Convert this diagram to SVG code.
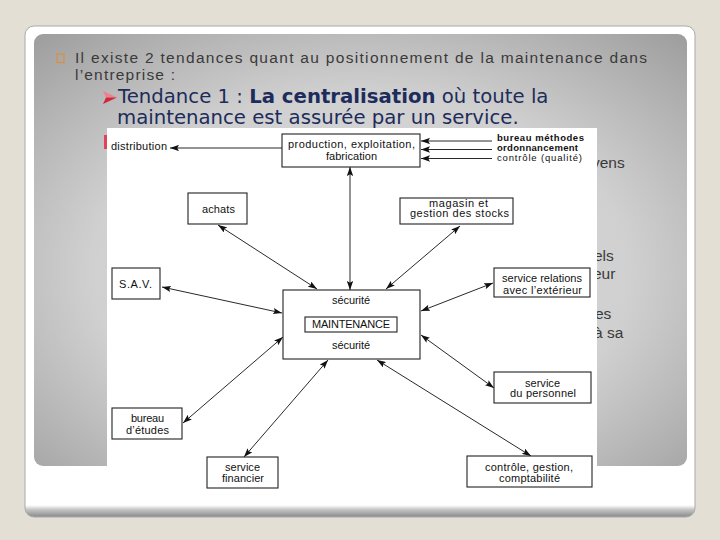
<svg xmlns="http://www.w3.org/2000/svg" width="720" height="540" viewBox="0 0 720 540">
<defs>
<linearGradient id="frameGrad" x1="0" y1="0" x2="0" y2="1">
<stop offset="0" stop-color="#ffffff"/>
<stop offset="0.976" stop-color="#ffffff"/>
<stop offset="0.985" stop-color="#c4c4c4"/>
<stop offset="1" stop-color="#8a8a8a"/>
</linearGradient>
<radialGradient id="panelGrad" cx="0.5" cy="0.55" r="0.75">
<stop offset="0" stop-color="#dedede"/>
<stop offset="0.55" stop-color="#d0d0d0"/>
<stop offset="1" stop-color="#9c9c9c"/>
</radialGradient>
<marker id="ah" viewBox="0 0 10 7" refX="10" refY="3.5" markerUnits="userSpaceOnUse" markerWidth="9" markerHeight="6.3" orient="auto-start-reverse">
<path d="M0,0 L10,3.5 L0,7 L2,3.5 z" fill="#111"/>
</marker>
<style>
.slide{font-family:"Liberation Sans",Arial,sans-serif;font-size:15.5px;fill:#3a3a3a}
.tend{font-family:"DejaVu Sans",Verdana,sans-serif;font-size:19.7px;fill:#1d2c5a}
.lbl{font-family:"Liberation Sans",Arial,sans-serif;font-size:11px;fill:#111}
.sm{font-size:9.5px}
.b{font-weight:bold}
.box{fill:#fff;stroke:#222;stroke-width:1.1}
.con{stroke:#111;stroke-width:0.9;fill:none}
.dbl{marker-start:url(#ah);marker-end:url(#ah)}
.one{marker-end:url(#ah)}
</style>
</defs>
<rect x="0" y="0" width="720" height="540" fill="#e4dfd5"/>
<rect x="25" y="26" width="670" height="491" rx="9" fill="url(#frameGrad)" stroke="#a9a9a9" stroke-width="1"/>
<rect x="34" y="34" width="653" height="432" rx="9" fill="url(#panelGrad)"/>

<rect x="57" y="54" width="7" height="8.5" fill="none" stroke="#d9903f" stroke-width="1.2"/>
<text class="slide" x="75" y="63" textLength="572">Il existe 2 tendances quant au positionnement de la maintenance dans</text>
<text class="slide" x="75" y="80" textLength="100">l’entreprise :</text>
<polygon points="103,91 117,97.5 106,97.5" fill="#f08090"/>
<polygon points="103,104 117,97.5 106,97.5" fill="#d02838"/>
<text class="tend" x="118" y="103">Tendance 1 : <tspan class="b">La centralisation</tspan> où toute la</text>
<text class="tend" x="117" y="124">maintenance est assurée par un service.</text>
<rect x="104" y="135" width="5" height="14" fill="#e04458"/>
<text class="slide" x="592" y="168">yens</text>
<text class="slide" x="594" y="261">els</text>
<text class="slide" x="593" y="279">eur</text>
<text class="slide" x="595" y="319">es</text>
<text class="slide" x="594" y="338">à sa</text>

<rect x="107" y="128" width="490" height="364" fill="#ffffff"/>

<g id="connectors">
<line class="con one" x1="282" y1="148" x2="170" y2="148"/>
<line class="con one" x1="492" y1="141" x2="421" y2="141" stroke-width="1.6"/>
<line class="con one" x1="492" y1="149.5" x2="421" y2="149.5" stroke-width="1.3"/>
<line class="con one" x1="492" y1="158.5" x2="421" y2="158.5"/>
<line class="con dbl" x1="350" y1="290" x2="350" y2="167"/>
<line class="con dbl" x1="317" y1="289" x2="218" y2="225"/>
<line class="con dbl" x1="386" y1="289" x2="460" y2="226"/>
<line class="con dbl" x1="282" y1="313" x2="162" y2="287"/>
<line class="con dbl" x1="421" y1="311" x2="493" y2="283"/>
<line class="con dbl" x1="283" y1="337" x2="183" y2="423"/>
<line class="con dbl" x1="328" y1="360" x2="244" y2="457"/>
<line class="con dbl" x1="421" y1="335" x2="494" y2="388"/>
<line class="con dbl" x1="377" y1="360" x2="531" y2="456"/>
</g>

<g id="distribution">
<text class="lbl" x="111" y="150" textLength="56">distribution</text>
</g>
<g id="production">
<rect class="box" x="282" y="134" width="138" height="33"/>
<text class="lbl" x="288" y="148" textLength="127">production, exploitation,</text>
<text class="lbl" x="326" y="160" textLength="51">fabrication</text>
</g>
<g id="inputs">
<text class="lbl sm b" x="497" y="140.5" textLength="87">bureau méthodes</text>
<text class="lbl sm b" x="497" y="150.5" textLength="81">ordonnancement</text>
<text class="lbl sm" x="497" y="161" textLength="85">contrôle (qualité)</text>
</g>
<g id="achats">
<rect class="box" x="188" y="193" width="59" height="31"/>
<text class="lbl" x="202" y="213" textLength="33">achats</text>
</g>
<g id="magasin">
<rect class="box" x="400" y="198" width="113" height="26"/>
<text class="lbl" x="429" y="206.5" textLength="59">magasin et</text>
<text class="lbl" x="410" y="217" textLength="99">gestion des stocks</text>
</g>
<g id="sav">
<rect class="box" x="112" y="268" width="48" height="31"/>
<text class="lbl" x="119" y="288" textLength="33">S.A.V.</text>
</g>
<g id="maintenance">
<rect class="box" x="283" y="290" width="137" height="69"/>
<text class="lbl" x="332" y="304" textLength="38">sécurité</text>
<rect class="box" x="305" y="317" width="92" height="15"/>
<text class="lbl" x="312" y="328" textLength="78">MAINTENANCE</text>
<text class="lbl" x="332" y="349" textLength="38">sécurité</text>
</g>
<g id="relations">
<rect class="box" x="494" y="268" width="96" height="29"/>
<text class="lbl" x="502" y="282" textLength="80">service relations</text>
<text class="lbl" x="503" y="294" textLength="79">avec l’extérieur</text>
</g>
<g id="personnel">
<rect class="box" x="494" y="372" width="97" height="31"/>
<text class="lbl" x="525" y="386.5" textLength="35">service</text>
<text class="lbl" x="510" y="397" textLength="66">du personnel</text>
</g>
<g id="controle">
<rect class="box" x="467" y="456" width="125" height="31"/>
<text class="lbl" x="485" y="470.5" textLength="88">contrôle, gestion,</text>
<text class="lbl" x="499" y="481.5" textLength="61">comptabilité</text>
</g>
<g id="etudes">
<rect class="box" x="112" y="408" width="70" height="31"/>
<text class="lbl" x="131" y="422" textLength="33">bureau</text>
<text class="lbl" x="126" y="433.5" textLength="43">d’études</text>
</g>
<g id="financier">
<rect class="box" x="207" y="457" width="71" height="31"/>
<text class="lbl" x="225" y="471" textLength="35">service</text>
<text class="lbl" x="222" y="482" textLength="42">financier</text>
</g>
</svg>
